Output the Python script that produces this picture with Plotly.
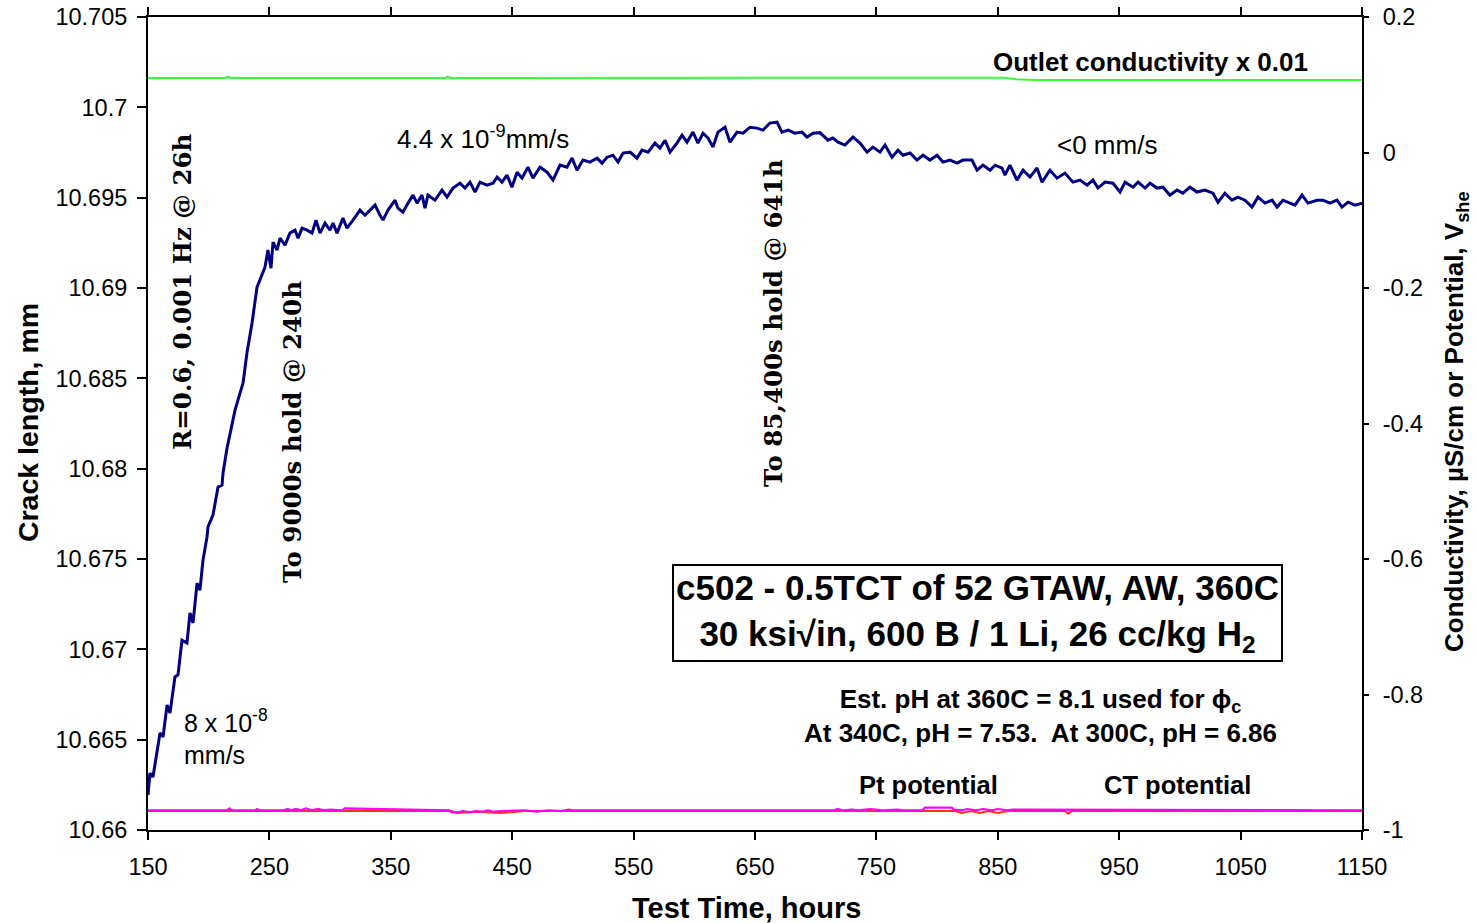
import plotly.graph_objects as go

# ---------------- data ----------------
hours = [150, 151.6, 154.1, 157.4, 159.9, 162.4, 165.7, 168.1, 172.2, 174.7,
         178.0, 182.1, 184.6, 187.1, 190.4, 192.8, 195.3, 198.6, 199.4, 203.5,
         207.7, 211.0, 211.8, 215.1, 217.5, 221.7, 225.8, 228.3, 231.5, 232.4,
         235.7, 239.8, 242.3, 246.4, 248.8, 251.3, 253.0, 256.3, 258.7,
         262.9, 266.9, 271.1, 273.6, 276.9, 281.0, 285.1, 288.4, 291.7, 295.8,
         299.9, 302.4, 305.7, 310.6, 313.9, 318.9, 324.6, 328.7, 332.9, 337.0,
         341.1, 343.6, 347.7, 353.5, 355.9, 360.0, 364.2, 368.3, 371.6, 375.7,
         378.2, 380.6, 386.4, 392.2, 396.3, 401.2, 407.0, 411.1, 415.2, 419.4,
         423.5, 429.2, 434.2, 437.5, 441.6, 445.7, 449.8, 454.0, 458.1, 463.0,
         467.1,
         472.9, 478.7, 483.6, 489.4, 495.1, 499.3, 503.4, 508.3, 514.1, 519.9,
         524.0, 528.1, 533.0, 537.2, 541.3, 547.1, 552.8, 556.9, 561.9, 567.6,
         571.7, 575.9, 580.0, 585.7, 589.9, 594.0, 598.9, 603.0, 607.2, 611.3,
         615.4, 619.5, 625.3, 629.4, 635.2, 640.1, 645.9, 651.6, 656.6, 662.3,
         668.1, 672.2, 677.2, 682.9, 688.7, 692.8, 697.8, 703.5, 710.1,
         714.2, 718.4, 724.1, 730.7, 736.5, 742.3, 747.2, 752.9, 757.1, 762.8,
         767.8, 771.9, 777.7, 783.4, 788.4, 794.1, 799.9, 804.8, 810.6, 816.4,
         821.3, 828.7, 832.9, 837.8, 843.6, 847.7, 853.5, 855.9, 860.0, 865.8,
         870.8, 876.5, 882.3, 886.4, 893.0, 898.8, 905.3, 911.9, 917.7, 923.5,
         928.4, 932.5,
         938.3, 944.9, 950.7, 954.8, 961.4, 965.5, 971.3, 975.4, 981.1, 986.1,
         991.8, 997.6, 1002.5, 1008.3, 1014.1, 1020.6, 1027.2, 1031.4, 1037.1, 1042.9,
         1047.8, 1053.6, 1059.4, 1064.3, 1070.1, 1075.9, 1080.0, 1084.9, 1090.7, 1094.8,
         1100.6, 1105.5, 1112.9, 1117.9, 1123.6, 1129.4, 1133.5, 1138.5, 1144.3, 1150.0]

crack_mm = [10.66194, 10.66315, 10.66293, 10.66426, 10.66537, 10.66515, 10.66692, 10.66647, 10.66847, 10.66858,
            10.67051, 10.67035, 10.67201, 10.67146, 10.67367, 10.67328, 10.67494, 10.67621, 10.67677, 10.67743,
            10.67898, 10.67909, 10.67976, 10.68114, 10.68186, 10.68324, 10.68418, 10.68474, 10.68640, 10.68673,
            10.68806, 10.69005, 10.69044, 10.69116, 10.69210, 10.69110, 10.69254, 10.69210, 10.69276,
            10.69237, 10.69304, 10.69320, 10.69276, 10.69331, 10.69320, 10.69304, 10.69376, 10.69304, 10.69359,
            10.69320, 10.69359, 10.69304, 10.69387, 10.69331, 10.69376, 10.69431, 10.69403, 10.69431, 10.69459,
            10.69403, 10.69376, 10.69431, 10.69486, 10.69442, 10.69420, 10.69470, 10.69514, 10.69470, 10.69514,
            10.69442, 10.69514, 10.69486, 10.69542, 10.69503, 10.69553, 10.69580, 10.69553, 10.69586, 10.69531,
            10.69586, 10.69569, 10.69580, 10.69614, 10.69586, 10.69625, 10.69558, 10.69641, 10.69608, 10.69669,
            10.69608,
            10.69669, 10.69641, 10.69597, 10.69680, 10.69669, 10.69719, 10.69652, 10.69708, 10.69697, 10.69719,
            10.69691, 10.69724, 10.69735, 10.69697, 10.69747, 10.69752, 10.69719, 10.69763, 10.69752, 10.69802,
            10.69774, 10.69818, 10.69752, 10.69802, 10.69846, 10.69807, 10.69863, 10.69802, 10.69857, 10.69830,
            10.69780, 10.69863, 10.69890, 10.69807, 10.69863, 10.69857, 10.69890, 10.69885, 10.69874, 10.69913,
            10.69918, 10.69863, 10.69874, 10.69857, 10.69863, 10.69835, 10.69857, 10.69860, 10.69818,
            10.69830, 10.69807, 10.69791, 10.69835, 10.69802, 10.69752, 10.69780, 10.69752, 10.69791, 10.69724,
            10.69763, 10.69735, 10.69747, 10.69708, 10.69735, 10.69708, 10.69735, 10.69697, 10.69708, 10.69691,
            10.69708, 10.69708, 10.69652, 10.69680, 10.69652, 10.69680, 10.69664, 10.69625, 10.69680, 10.69597,
            10.69652, 10.69614, 10.69664, 10.69586, 10.69652, 10.69608, 10.69636, 10.69586, 10.69597, 10.69569,
            10.69597, 10.69553,
            10.69586, 10.69580, 10.69531, 10.69586, 10.69558, 10.69586, 10.69553, 10.69580, 10.69553, 10.69558,
            10.69514, 10.69542, 10.69525, 10.69558, 10.69531, 10.69542, 10.69525, 10.69475, 10.69525, 10.69486,
            10.69503, 10.69486, 10.69448, 10.69503, 10.69470, 10.69486, 10.69448, 10.69486, 10.69470, 10.69459,
            10.69514, 10.69470, 10.69486, 10.69486, 10.69470, 10.69486, 10.69448, 10.69475, 10.69459, 10.69470]

cond_hours = [150, 214, 216, 218, 395, 397, 399, 480, 482, 484, 600, 602, 604, 840, 848, 855, 865, 880, 1150]
cond_x001 = [0.110, 0.110, 0.112, 0.110, 0.110, 0.112, 0.110, 0.110, 0.111, 0.110, 0.110, 0.111, 0.110,
             0.110, 0.111, 0.1105, 0.108, 0.107, 0.107]

pt_hours = [150, 215, 217, 219, 238, 240, 242, 262, 265, 268, 272, 276, 280, 285, 290, 295, 300, 310, 312,
            398, 400, 405, 410, 415, 420, 425, 430, 435, 440, 450, 460, 470, 480, 490, 497, 500,
            715, 718, 722, 730, 735, 745, 755, 768, 772, 788, 790, 812, 814, 820, 825, 832, 838, 845,
            850, 858, 862, 1150]
pt_pot = [-0.971, -0.971, -0.968, -0.971, -0.971, -0.969, -0.971, -0.971, -0.969, -0.971, -0.969, -0.971,
          -0.968, -0.971, -0.969, -0.971, -0.970, -0.971, -0.968,
          -0.971, -0.974, -0.974, -0.972, -0.974, -0.972, -0.973, -0.971, -0.973, -0.972, -0.972, -0.971,
          -0.973, -0.971, -0.972, -0.970, -0.971,
          -0.971, -0.969, -0.971, -0.970, -0.971, -0.969, -0.971, -0.970, -0.971, -0.971, -0.967, -0.967,
          -0.970, -0.971, -0.969, -0.971, -0.969, -0.971, -0.969, -0.971, -0.970, -0.971]

ct_hours = [150, 400, 405, 420, 440, 460, 815, 820, 828, 835, 842, 850, 858, 905, 908, 911, 1150]
ct_pot = [-0.972, -0.972, -0.975, -0.973, -0.975, -0.972, -0.972, -0.975, -0.972, -0.975, -0.972, -0.975,
          -0.972, -0.972, -0.976, -0.972, -0.972]

x_ticks = [150, 250, 350, 450, 550, 650, 750, 850, 950, 1050, 1150]
y_ticks = [10.66, 10.665, 10.67, 10.675, 10.68, 10.685, 10.69, 10.695, 10.7, 10.705]
y_tick_text = ["10.66", "10.665", "10.67", "10.675", "10.68", "10.685", "10.69", "10.695", "10.7", "10.705"]
y2_ticks = [-1, -0.8, -0.6, -0.4, -0.2, 0, 0.2]
y2_tick_text = ["-1", "-0.8", "-0.6", "-0.4", "-0.2", "0", "0.2"]

assert len(hours) == len(crack_mm)
assert len(pt_hours) == len(pt_pot)
assert len(ct_hours) == len(ct_pot)
assert len(cond_hours) == len(cond_x001)

# ---------------- figure ----------------
FONT = "Arial, Liberation Sans, sans-serif"
SERIF = "DejaVu Serif, serif"
TICKSIZE = 23.5

fig = go.Figure()
fig.add_trace(go.Scatter(x=ct_hours, y=ct_pot, mode="lines", yaxis="y2",
                         line=dict(color="#ff3300", width=2), showlegend=False))
fig.add_trace(go.Scatter(x=pt_hours, y=pt_pot, mode="lines", yaxis="y2",
                         line=dict(color="#ff00ff", width=2.2), showlegend=False))
fig.add_trace(go.Scatter(x=cond_hours, y=cond_x001, mode="lines", yaxis="y2",
                         line=dict(color="#33ff33", width=2), showlegend=False))
fig.add_trace(go.Scatter(x=hours, y=crack_mm, mode="lines", yaxis="y",
                         line=dict(color="#000080", width=3), showlegend=False))

axis_common = dict(showgrid=False, zeroline=False, linecolor="black", tickcolor="black",
                   automargin=False)

fig.update_layout(
    width=1476, height=923,
    margin=dict(l=148, r=114, t=17, b=93, autoexpand=False),
    paper_bgcolor="white", plot_bgcolor="white",
    font=dict(family=FONT, color="black", size=22),
    xaxis=dict(range=[150, 1150], tickmode="array", tickvals=x_ticks,
               ticks="outside", ticklen=8, tickwidth=2, showline=True, linewidth=2,
               mirror="allticks", tickfont=dict(size=TICKSIZE, family=FONT),
               ticklabelstandoff=7, **axis_common),
    xaxis2=dict(range=[150, 1150], overlaying="x", anchor="y", side="bottom",
                tickmode="array", tickvals=x_ticks, ticks="inside", ticklen=9, tickwidth=2,
                showticklabels=False, showline=False, mirror="allticks",
                minor=dict(tickmode="linear", tick0=150, dtick=25, ticks="inside",
                           ticklen=5, tickwidth=1.5, tickcolor="black"),
                **axis_common),
    yaxis=dict(range=[10.66, 10.705], tickmode="array", tickvals=y_ticks, ticktext=y_tick_text,
               ticks="outside", ticklen=9, tickwidth=2, showline=True, linewidth=2,
               tickfont=dict(size=TICKSIZE, family=FONT), ticklabelstandoff=5, **axis_common),
    yaxis3=dict(range=[10.66, 10.705], overlaying="y", anchor="x", side="left",
                tickmode="array", tickvals=y_ticks, ticks="inside", ticklen=10, tickwidth=2,
                showticklabels=False, showline=False,
                minor=dict(tickmode="linear", tick0=10.66, dtick=0.001, ticks="inside",
                           ticklen=5, tickwidth=1.5, tickcolor="black"),
                **axis_common),
    yaxis2=dict(range=[-1, 0.2], overlaying="y", anchor="x", side="right",
                tickmode="array", tickvals=y2_ticks, ticktext=y2_tick_text,
                ticks="outside", ticklen=5, tickwidth=2, showline=True, linewidth=2,
                tickfont=dict(size=TICKSIZE, family=FONT), ticklabelstandoff=9, **axis_common),
    yaxis4=dict(range=[-1, 0.2], overlaying="y", anchor="x", side="right",
                tickmode="array", tickvals=y2_ticks, ticks="inside", ticklen=12, tickwidth=2,
                showticklabels=False, showline=False,
                minor=dict(tickmode="linear", tick0=-1, dtick=0.05, ticks="inside",
                           ticklen=6, tickwidth=1.5, tickcolor="black"),
                **axis_common),
)

annotations = [
    # axis titles
    dict(xref="paper", yref="paper", x=0.4926, y=-0.0959, text="<b>Test Time, hours</b>",
         font=dict(size=29, family=FONT), showarrow=False, xanchor="center", yanchor="middle"),
    dict(xref="paper", yref="paper", x=-0.0988, y=0.5006, text="<b>Crack length, mm</b>",
         font=dict(size=28.5, family=FONT), showarrow=False, textangle=-90,
         xanchor="center", yanchor="middle"),
    dict(xref="paper", yref="paper", x=1.0775, y=0.502,
         text="<b>Conductivity, µS/cm or Potential, V<sub>she</sub></b>",
         font=dict(size=26, family=FONT), showarrow=False, textangle=-90,
         xanchor="center", yanchor="middle"),
    # rotated event labels
    dict(x=178, y=10.68983, text="<b>R=0.6, 0.001 Hz @ 26h</b>", textangle=-90,
         font=dict(size=24.5, family=SERIF), showarrow=False, xanchor="center", yanchor="middle"),
    dict(x=269.4, y=10.68203, text="<b>To 9000s hold @ 240h</b>", textangle=-90,
         font=dict(size=24.5, family=SERIF), showarrow=False, xanchor="center", yanchor="middle"),
    dict(x=664.8, y=10.68806, text="<b>To 85,400s hold @ 641h</b>", textangle=-90,
         font=dict(size=24.5, family=SERIF), showarrow=False, xanchor="center", yanchor="middle"),
    # rate labels
    dict(x=353.5, y=10.69835, text="4.4 x 10<sup>-9</sup>mm/s", font=dict(size=26, family=FONT),
         showarrow=False, xanchor="left", yanchor="middle"),
    dict(x=897, y=10.69791, text="&lt;0 mm/s", font=dict(size=26, family=FONT),
         showarrow=False, xanchor="left", yanchor="middle"),
    dict(x=178, y=10.66515, text="8 x 10<sup>-8</sup><br>mm/s", font=dict(size=25, family=FONT),
         showarrow=False, xanchor="left", yanchor="middle", align="left"),
    # line labels
    dict(x=976, y=0.1336, yref="y2", text="<b>Outlet conductivity x 0.01</b>",
         font=dict(size=26, family=FONT), showarrow=False, xanchor="center", yanchor="middle"),
    dict(x=792.5, y=-0.9336, yref="y2", text="<b>Pt potential</b>",
         font=dict(size=25.5, family=FONT), showarrow=False, xanchor="center", yanchor="middle"),
    dict(x=998.4, y=-0.9336, yref="y2", text="<b>CT potential</b>",
         font=dict(size=25.5, family=FONT), showarrow=False, xanchor="center", yanchor="middle"),
    # title box
    dict(x=832.9, y=10.67201,
         text="<b>c502 - 0.5TCT of 52 GTAW, AW, 360C<br>30 ksi√in, 600 B / 1 Li, 26 cc/kg H<sub>2</sub></b>",
         font=dict(size=35, family=FONT), showarrow=False, xanchor="center", yanchor="middle",
         bordercolor="black", borderwidth=2, borderpad=2, bgcolor="white"),
    dict(x=884.8, y=10.66631,
         text="<b>Est. pH at 360C = 8.1 used for ϕ<sub>c</sub><br>At 340C, pH = 7.53.  At 300C, pH = 6.86</b>",
         font=dict(size=26, family=FONT), showarrow=False, xanchor="center", yanchor="middle"),
]
fig.update_layout(annotations=annotations)

fig.write_html("out.html")
